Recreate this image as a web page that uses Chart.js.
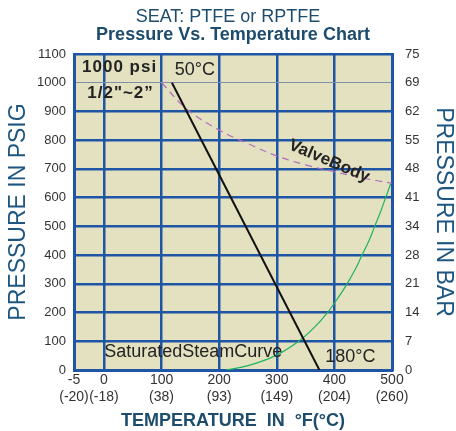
<!DOCTYPE html>
<html>
<head>
<meta charset="utf-8">
<script src="https://cdn.jsdelivr.net/npm/chart.js@4.4.1/dist/chart.umd.min.js"></script>
<style>
html, body { margin: 0; padding: 0; background: #fff; }
</style>
</head>
<body>
<canvas id="myChart" width="456" height="431"></canvas>
<script>
// x axis: -5 sits closer to 0 than the regular 100 step, so it is placed at -52
const xTickValues = [-52, 0, 100, 200, 300, 400, 500];
const xTickF = ['-5', '0', '100', '200', '300', '400', '500'];
const xTickC = ['(-20)', '(-18)', '(38)', '(93)', '(149)', '(204)', '(260)'];
const barTicks = [0, 7, 14, 21, 28, 34, 41, 48, 55, 62, 69, 75];

// seat rating line (black)
const seatTemp = [118, 374];
const seatPsi = [1000, 0];

// valve body rating (purple dashed)
const bodyTemp = [100, 144, 200, 250, 300, 350, 400, 450, 500];
const bodyPsi = [1000, 908, 835, 788, 745, 714, 690, 668, 650];

// saturated steam curve (green)
const steamTemp = [212, 250, 298, 338, 366, 388, 406, 422, 436, 448, 460, 470, 480, 489, 498];
const steamPsi = [0, 15, 50, 100, 150, 200, 250, 300, 350, 400, 450, 500, 550, 600, 650];

const FONT = '"Liberation Sans", Arial, Helvetica, sans-serif';
const gridBlue = '#1f55a5';
const titleBlue = '#1d4c6c';
const axisBlue = '#1d5680';

const notes = [
    { text: '1000 psi', x: -38, y: 1055, size: 17, bold: true, align: 'left', spacing: '1px' },
    { text: '1/2"~2\u201D', x: -29, y: 964, size: 17, bold: true, align: 'left', spacing: '1px' },
    { text: '50°C', x: 123, y: 1044, size: 18, bold: false, align: 'left' },
    { text: 'ValveBody', x: 391, y: 727, size: 17, bold: true, align: 'center', angle: 23 },
    { text: 'SaturatedSteamCurve', x: 155, y: 63, size: 18, bold: false, align: 'center' },
    { text: '180°C', x: 384, y: 45, size: 18, bold: false, align: 'left' }
];

const toPoints = (xs, ys) => xs.map((v, i) => ({ x: v, y: ys[i] }));

const plotBackground = {
    id: 'plotBackground',
    beforeDraw(chart) {
        const { ctx, chartArea: a } = chart;
        ctx.save();
        ctx.fillStyle = '#e3e1c0';
        ctx.fillRect(a.left, a.top, a.right - a.left, a.bottom - a.top);
        ctx.restore();
    }
};

const textNotes = {
    id: 'textNotes',
    afterDatasetsDraw(chart) {
        const { ctx, scales } = chart;
        notes.forEach(n => {
            const px = scales.x.getPixelForValue(n.x);
            const py = scales.y.getPixelForValue(n.y);
            ctx.save();
            ctx.translate(px, py);
            if (n.angle) ctx.rotate(n.angle * Math.PI / 180);
            ctx.font = (n.bold ? 'bold ' : '') + n.size + 'px ' + FONT;
            if (n.spacing) ctx.letterSpacing = n.spacing;
            ctx.fillStyle = '#232323';
            ctx.textAlign = n.align;
            ctx.textBaseline = 'middle';
            ctx.fillText(n.text, 0, 0);
            ctx.restore();
        });
    }
};

const ctx = document.getElementById('myChart').getContext('2d');

const data = {
    datasets: [
        {
            label: 'Seat',
            data: toPoints(seatTemp, seatPsi),
            borderColor: '#111111',
            borderWidth: 2,
            pointRadius: 0,
            fill: false
        },
        {
            label: 'ValveBody',
            data: toPoints(bodyTemp, bodyPsi),
            borderColor: '#b46cbc',
            borderWidth: 1.2,
            borderDash: [7, 5],
            pointRadius: 0,
            tension: 0.4,
            fill: false
        },
        {
            label: 'SaturatedSteamCurve',
            data: toPoints(steamTemp, steamPsi),
            borderColor: '#21b35c',
            borderWidth: 1.2,
            pointRadius: 0,
            tension: 0.4,
            fill: false
        }
    ]
};

const config = {
    type: 'line',
    data: data,
    plugins: [plotBackground, textNotes],
    options: {
        responsive: false,
        animation: false,
        layout: { padding: 0 },
        plugins: {
            legend: { display: false },
            tooltip: { enabled: false },
            title: {
                display: true,
                text: 'SEAT: PTFE or RPTFE',
                color: titleBlue,
                font: { family: FONT, size: 18, weight: 'normal', lineHeight: 1 },
                padding: { top: 8, bottom: 0 }
            },
            subtitle: {
                display: true,
                text: 'Pressure Vs. Temperature Chart',
                color: titleBlue,
                fullSize: false,
                font: { family: FONT, size: 18, weight: 'bold', lineHeight: 1 },
                padding: { top: 0, bottom: 10 }
            }
        },
        scales: {
            x: {
                type: 'linear',
                min: -52,
                max: 500,
                afterBuildTicks: (scale) => {
                    scale.ticks = xTickValues.map(v => ({ value: v }));
                },
                afterFit: (scale) => { scale.height = 61; },
                grid: { color: gridBlue, lineWidth: 2.5, drawTicks: false },
                border: { display: true, color: gridBlue, width: 3 },
                ticks: {
                    color: '#333',
                    padding: 2,
                    maxRotation: 0,
                    autoSkip: false,
                    font: { family: FONT, size: 14, lineHeight: 1.2 },
                    callback: (value, i) => [xTickF[i], xTickC[i]]
                },
                title: {
                    display: true,
                    text: 'TEMPERATURE  IN  °F(°C)',
                    color: titleBlue,
                    font: { family: FONT, size: 18, weight: 'bold', lineHeight: 1 },
                    padding: { top: 0, bottom: 1 }
                }
            },
            y: {
                position: 'left',
                min: 0,
                max: 1100,
                afterFit: (scale) => { scale.width = 74; },
                grid: {
                    color: (c) => c.tick && c.tick.value === 1000 ? '#7d91a8' : gridBlue,
                    lineWidth: (c) => c.tick && c.tick.value === 1000 ? 1 : 2.5,
                    drawTicks: false
                },
                border: { display: true, color: gridBlue, width: 3 },
                ticks: {
                    stepSize: 100,
                    color: '#333',
                    padding: 8,
                    font: { family: FONT, size: 13 },
                    callback: (value) => String(value)
                },
                title: {
                    display: true,
                    text: 'PRESSURE IN PSIG',
                    color: axisBlue,
                    font: { family: FONT, size: 23, weight: 'normal', lineHeight: 1 },
                    padding: { top: 7, bottom: 0 }
                }
            },
            y2: {
                position: 'right',
                min: 0,
                max: 1100,
                afterFit: (scale) => { scale.width = 64; },
                grid: { drawOnChartArea: false, drawTicks: false },
                border: { display: true, color: gridBlue, width: 3 },
                ticks: {
                    stepSize: 100,
                    color: '#333',
                    padding: 13,
                    font: { family: FONT, size: 13 },
                    callback: (value, i) => barTicks[i]
                },
                title: {
                    display: true,
                    text: 'PRESSURE IN BAR',
                    color: axisBlue,
                    font: { family: FONT, size: 23, weight: 'normal', lineHeight: 1 },
                    padding: { top: 1, bottom: 0 }
                }
            }
        }
    }
};

const myChart = new Chart(ctx, config);
</script>
</body>
</html>
